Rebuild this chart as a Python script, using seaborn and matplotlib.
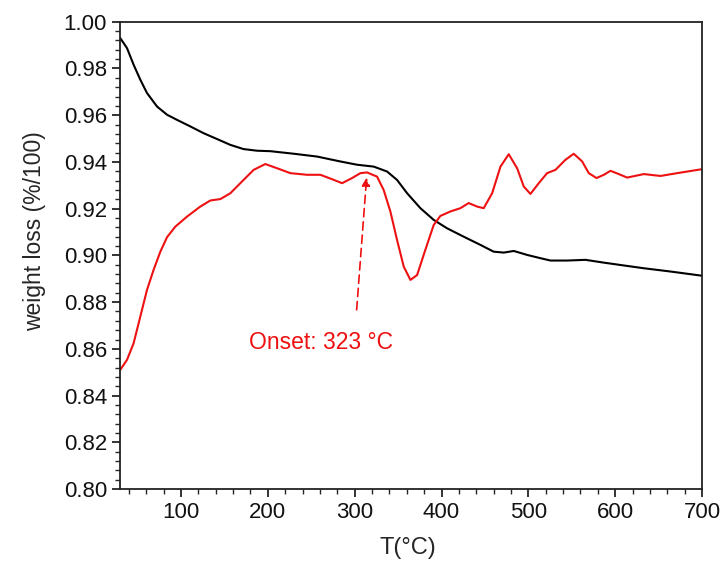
import matplotlib
matplotlib.use("Agg")
import matplotlib.pyplot as plt
from matplotlib.ticker import MultipleLocator
import seaborn as sns
import pandas as pd

# curva TG (preta)
tg_temp = [30, 37.8, 45.4, 53.1, 60.8, 72.4, 83.9, 95.4, 110.7, 126, 141.5,
           156.8, 172, 187.6, 202.9, 230, 256.7, 283.5, 302.8, 321.9, 337.3,
           348.8, 360.4, 375.7, 391, 406.4, 425.6, 444.8, 460, 471.7, 483.2,
           498.6, 514, 525.5, 544.7, 565.8, 586.9, 606, 633, 663.7, 700]
tg_weight = [0.993, 0.9887, 0.9816, 0.9752, 0.9695, 0.9637, 0.9602, 0.958,
             0.9552, 0.9523, 0.9498, 0.9473, 0.9455, 0.9448, 0.9446, 0.9435,
             0.9423, 0.9402, 0.9388, 0.938, 0.9359, 0.9323, 0.9266, 0.9202,
             0.9152, 0.9116, 0.908, 0.9045, 0.9016, 0.9012, 0.9019, 0.9002,
             0.8988, 0.8978, 0.8978, 0.8981, 0.8969, 0.8959, 0.8945, 0.8931,
             0.8913]

# curva vermelha
red_temp = [30, 37.8, 45.4, 53.1, 60.8, 68.4, 76.2, 83.9, 93.4, 106.9, 122.2,
            133.8, 145.3, 156.8, 168.3, 183.6, 197.1, 210.6, 225.9, 245.2,
            260.5, 274, 285.5, 297, 306.6, 314.3, 325.8, 333.4, 341.1, 348.8,
            356.5, 364.2, 371.9, 381.4, 391, 398.7, 410.2, 421.7, 431.3, 441,
            448.6, 458.3, 467.9, 477.4, 487.1, 494.7, 502.4, 512, 521.6, 531.2,
            542.7, 552.3, 562, 569.6, 578.5, 587, 594.6, 604.2, 613.8, 633,
            652.2, 671.4, 700]
red_weight = [0.851, 0.8553, 0.8624, 0.8738, 0.8852, 0.8938, 0.9016, 0.9078,
              0.9123, 0.9166, 0.9209, 0.9235, 0.9241, 0.9266, 0.9309, 0.9366,
              0.9391, 0.9373, 0.9352, 0.9345, 0.9345, 0.9326, 0.9309, 0.9331,
              0.9352, 0.9355, 0.9337, 0.928, 0.9188, 0.9066, 0.8952, 0.8895,
              0.8916, 0.9024, 0.913, 0.9169, 0.9188, 0.9202, 0.9224, 0.9209,
              0.9202, 0.9266, 0.938, 0.9433, 0.9373, 0.9295, 0.9263, 0.9309,
              0.9352, 0.9366, 0.9409, 0.9435, 0.9402, 0.9352, 0.9331, 0.9345,
              0.9362, 0.9348, 0.9333, 0.9348, 0.934, 0.9352, 0.9369]

onset_label = "Onset: 323 °C"

sns.set_style("ticks")
plt.rcParams['font.family'] = ['Liberation Sans', 'DejaVu Sans']

df_tg = pd.DataFrame({'T': tg_temp, 'w': tg_weight})
df_red = pd.DataFrame({'T': red_temp, 'w': red_weight})

fig, ax = plt.subplots(figsize=(7.2, 5.72), dpi=100)
fig.subplots_adjust(left=0.167, right=0.975, top=0.962, bottom=0.145)

sns.lineplot(data=df_tg, x='T', y='w', color='black', linewidth=1.5, ax=ax)
sns.lineplot(data=df_red, x='T', y='w', color='#ee1111', linewidth=1.5, ax=ax)

# seta do onset
ax.annotate('', xy=(314, 0.9345), xytext=(302, 0.8755),
            arrowprops=dict(arrowstyle='-|>', color='#ee1111', linestyle=(0, (5, 3)),
                            lw=1.2, mutation_scale=12))
ax.text(261, 0.8627, onset_label, color='#ee1111', fontsize=16.5,
        ha='center', va='center')

ax.set_xlim(30, 700)
ax.set_ylim(0.80, 1.00)
ax.xaxis.set_major_locator(MultipleLocator(100))
ax.xaxis.set_minor_locator(MultipleLocator(20))
ax.yaxis.set_major_locator(MultipleLocator(0.02))
ax.yaxis.set_minor_locator(MultipleLocator(0.004))
ax.yaxis.set_major_formatter(plt.FormatStrFormatter('%.2f'))

ax.tick_params(which='major', direction='out', length=6, width=1.2, labelsize=16,
               colors='#111111')
ax.tick_params(which='minor', direction='out', length=3.5, width=1.0)
for s in ax.spines.values():
    s.set_linewidth(1.3)
    s.set_color('#222222')

ax.set_xlabel('T(°C)', fontsize=17)
ax.set_ylabel('weight loss (%/100)', fontsize=16.5)
ax.xaxis.set_label_coords(0.495, -0.103)
ax.yaxis.set_label_coords(-0.128, 0.552)

plt.savefig('out.png', dpi=100)
